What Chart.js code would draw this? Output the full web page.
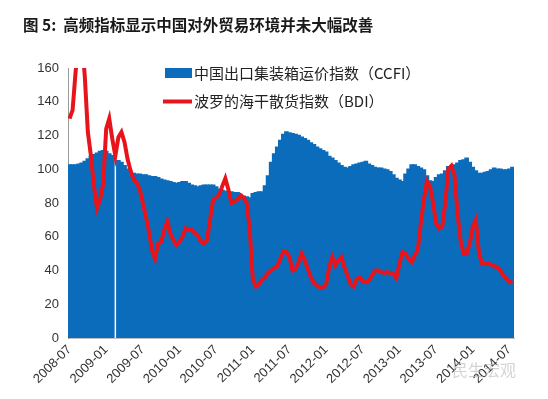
<!DOCTYPE html>
<html>
<head>
<meta charset="utf-8">
<script src="https://cdn.jsdelivr.net/npm/chart.js@4/dist/chart.umd.min.js"></script>
<style>
html,body{margin:0;padding:0;background:#fff;}
#wrap{width:548px;height:399px;position:relative;}
</style>
</head>
<body>
<div id="wrap"><canvas id="c" width="548" height="399"></canvas></div>
<script>
// ---- DATA ----
const titleText = '图 5:  高频指标显示中国对外贸易环境并未大幅改善';
const ccfiLabel = '中国出口集装箱运价指数（CCFI）';
const bdiLabel = '波罗的海干散货指数（BDI）';
const watermark = '民生宏观';

// half-month categories, 2008-07 to 2014-07
const firstYear = 2008, firstMonth = 7, monthCount = 73;
const categories = [];
for (let m = 0; m < monthCount; m++) {
  const y = firstYear + Math.floor((firstMonth - 1 + m) / 12);
  const mo = ((firstMonth - 1 + m) % 12) + 1;
  const ym = y + '-' + String(mo).padStart(2, '0');
  categories.push(ym + '-01', ym + '-16');
}

const tickLabels = ['2008-07','2009-01','2009-07','2010-01','2010-07','2011-01','2011-07',
                    '2012-01','2012-07','2013-01','2013-07','2014-01','2014-07'];

const ccfi = [
  102.5, 102.5, 102.5, 103, 103.5, 104.5, 106, 107.5,
  108.5, 109.5, 110.5, 111, 110.5, 109, 108,
  null, 105, 104, 102, 100, 98, 97.5, 97,
  97, 96.5, 96.5, 96, 95.5, 95.5, 95, 94,
  93.5, 93, 92.5, 92, 91.5, 92, 92.5,
  92.5, 91.5, 90.5, 90, 89.5, 90, 90.5, 90.5,
  90.5, 90.5, 89.5, 88, 87.5, 87, 86.5, 86.5,
  86, 86, 85, 84, 83.5, 83, 85.5,
  86, 86.5, 86.5, 90, 96, 104, 109, 113,
  117, 120.5, 122, 121.5, 121, 120.5, 120, 119,
  118, 117, 115.5, 114.5, 113, 112, 111, 110,
  107.5, 106.5, 105, 103.5, 102, 101, 100.5,
  101.5, 102.5, 103, 103.5, 104, 104.5, 103, 102,
  101, 100.5, 100.5, 100, 99.5, 98.5, 96.5, 94.5,
  93.5, 92.5, 97, 100, 102.5, 102.5, 101.5,
  100.5, 99.5, 96, 93, 92.5, 95, 96.5, 97,
  99, 101.5, 102, 102.5, 103.5, 105, 105.5, 106.5,
  104, 101, 99, 97.5, 97.5, 98, 98.5,
  99.5, 100.5, 100, 100, 99.5, 99.5, 100, 101
];

const bdi = [
  130, 135, 158, 175, 178, 155, 122, 108,
  90, 77, 82, 91, 124, 130, 118,
  108, 119, 122, 116, 106, 99, 94, 92,
  88, 80, 72, 63, 52, 47, 56, 57,
  64, 69, 62, 58, 55, 57, 60,
  65, 64, 64, 62, 61, 57, 56, 58,
  70, 82, 83, 85, 90, 94.5, 88, 80,
  81, 82, 84.5, 83, 80, 64, 35,
  30.5, 32, 34.5, 36, 38.5, 40, 41.5, 42.5,
  47, 51, 51, 48, 40, 41, 45, 50,
  46, 41, 36, 32.5, 31, 30, 30, 32,
  42, 48, 43, 46, 48, 42, 37,
  32, 30.5, 35, 36, 33.5, 33, 34, 37,
  40, 40, 39, 38.5, 39, 38.5, 38, 35.5,
  44, 51, 50, 47, 45, 49, 52,
  68, 82, 93, 90, 80, 68, 65, 66,
  80, 100, 102, 97, 74, 58, 50, 50,
  56, 66, 70, 51, 44, 44, 44,
  43.5, 42.5, 42, 40, 37, 35, 33, 33.5
];

// ---- STYLE ----
const BLUE = '#0c6cbc';
const RED = '#e8141c';
const CJK = '"Noto Sans CJK SC", sans-serif';

const overlayPlugin = {
  id: 'overlay',
  afterDraw(chart) {
    const ctx = chart.ctx;
    ctx.save();
    // title
    ctx.fillStyle = '#1a1a1a';
    ctx.font = 'bold 15.5px ' + CJK;
    ctx.textBaseline = 'middle';
    ctx.textAlign = 'left';
    ctx.fillText(titleText, 23, 25);
    // legend
    ctx.fillStyle = BLUE;
    ctx.fillRect(165, 68, 27, 10);
    ctx.strokeStyle = RED;
    ctx.lineWidth = 4;
    ctx.beginPath();
    ctx.moveTo(163, 101.5);
    ctx.lineTo(192, 101.5);
    ctx.stroke();
    ctx.fillStyle = '#222';
    ctx.font = '15px ' + CJK;
    ctx.fillText(ccfiLabel, 194, 73);
    ctx.fillText(bdiLabel, 194, 101);
    // watermark
    ctx.fillStyle = 'rgba(175,175,175,0.55)';
    ctx.font = '16px ' + CJK;
    ctx.fillText(watermark, 452, 370);
    ctx.restore();
  }
};

new Chart(document.getElementById('c'), {
  data: {
    labels: categories,
    datasets: [
      {
        type: 'line',
        label: bdiLabel,
        data: bdi,
        borderColor: RED,
        backgroundColor: RED,
        borderWidth: 4,
        pointRadius: 0,
        tension: 0,
        order: 0
      },
      {
        type: 'bar',
        label: ccfiLabel,
        data: ccfi,
        backgroundColor: BLUE,
        borderWidth: 0,
        barPercentage: 1,
        categoryPercentage: 1,
        inflateAmount: 0.8,
        order: 1
      }
    ]
  },
  options: {
    responsive: false,
    animation: false,
    devicePixelRatio: 1,
    layout: { padding: { top: 68, right: 34, bottom: 0, left: 0 } },
    plugins: { legend: { display: false }, title: { display: false }, tooltip: { enabled: false } },
    scales: {
      x: {
        type: 'category',
        offset: true,
        grid: { display: false, drawTicks: false },
        border: { display: true, color: '#bdbdbd' },
        ticks: {
          autoSkip: false,
          minRotation: 45,
          maxRotation: 45,
          padding: 4,
          color: '#333',
          font: { family: '"Liberation Sans", Arial, sans-serif', size: 13 },
          callback: function (v, i) {
            const c = categories[i];
            if (c && c.endsWith('-01') && tickLabels.includes(c.slice(0, 7))) return c.slice(0, 7);
            return null;
          }
        },
        afterFit: s => { s.height = 61; s.paddingLeft = 0; s.paddingRight = 0; }
      },
      y: {
        min: 0,
        max: 160,
        grid: { display: false, drawTicks: false },
        border: { display: true, color: '#9a9a9a' },
        ticks: {
          stepSize: 20,
          padding: 9,
          color: '#333',
          font: { family: '"Liberation Sans", Arial, sans-serif', size: 13 }
        },
        afterFit: s => { s.width = 68; s.paddingTop = 0; s.paddingBottom = 0; }
      }
    }
  },
  plugins: [overlayPlugin]
});
</script>
</body>
</html>
